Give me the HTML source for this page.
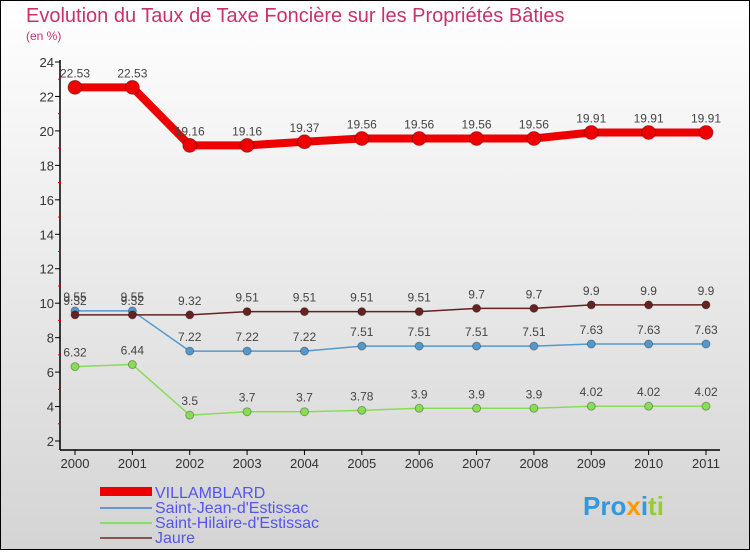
<!DOCTYPE html>
<html><head><meta charset="utf-8"><style>
html,body{margin:0;padding:0}
body{width:750px;height:550px;overflow:hidden;font-family:"Liberation Sans",sans-serif}
</style></head><body>
<svg width="750" height="550" xmlns="http://www.w3.org/2000/svg">
<defs><linearGradient id="bg" x1="0" y1="0" x2="0" y2="1"><stop offset="0" stop-color="#ffffff"/><stop offset="1" stop-color="#d4d4d4"/></linearGradient></defs>
<rect x="0.5" y="0.5" width="749" height="549" fill="url(#bg)" stroke="#000"/>
<text x="26" y="22" font-size="20" fill="#c8326a">Evolution du Taux de Taxe Foncière sur les Propriétés Bâties</text>
<text x="26" y="40" font-size="12" fill="#c8326a">(en %)</text>
<g id="axes"></g>
<g id="series"></g>
<g>
<rect x="100" y="487" width="52" height="9" fill="#ee0000"/>
<text x="155" y="498" font-size="16" fill="#5555ee">VILLAMBLARD</text>
<line x1="100" y1="508" x2="152" y2="508" stroke="#6699cc" stroke-width="2"/>
<text x="155" y="513" font-size="16" fill="#5555ee">Saint-Jean-d'Estissac</text>
<line x1="100" y1="523" x2="152" y2="523" stroke="#88dd66" stroke-width="2"/>
<text x="155" y="528" font-size="16" fill="#5555ee">Saint-Hilaire-d'Estissac</text>
<line x1="100" y1="538" x2="152" y2="538" stroke="#885555" stroke-width="2"/>
<text x="155" y="543" font-size="16" fill="#5555ee">Jaure</text>
</g>
<text x="583" y="515" font-size="26" font-weight="bold" fill="#3399dd">Pro<tspan fill="#ff9900">x</tspan><tspan fill="#3399dd">i</tspan><tspan fill="#99cc33">ti</tspan></text>
</svg>
<script>
const years=[2000,2001,2002,2003,2004,2005,2006,2007,2008,2009,2010,2011];
const villamblard=[22.53,22.53,19.16,19.16,19.37,19.56,19.56,19.56,19.56,19.91,19.91,19.91];
const saintJean=[9.55,9.55,7.22,7.22,7.22,7.51,7.51,7.51,7.51,7.63,7.63,7.63];
const saintHilaire=[6.32,6.44,3.5,3.7,3.7,3.78,3.9,3.9,3.9,4.02,4.02,4.02];
const jaure=[9.32,9.32,9.32,9.51,9.51,9.51,9.51,9.7,9.7,9.9,9.9,9.9];
const yTicks=[2,4,6,8,10,12,14,16,18,20,22,24];
const NS="http://www.w3.org/2000/svg";
const xs=i=>75+i*(706-75)/(years.length-1);
const ys=v=>441-(v-2)*(441-62)/22;
function mk(t,a,p){const e=document.createElementNS(NS,t);for(const k in a)e.setAttribute(k,a[k]);p.appendChild(e);return e;}
const ax=document.getElementById('axes');
let l=mk('line',{x1:60,y1:60,x2:60,y2:450,stroke:'#000','stroke-width':1.5},ax);


l=mk('line',{x1:60,y1:450,x2:720,y2:450,stroke:'#000','stroke-width':1.5},ax);


yTicks.forEach(v=>{
 mk('line',{x1:55,y1:ys(v),x2:60,y2:ys(v),stroke:'#000'},ax);
 if(v<24) mk('line',{x1:58,y1:ys(v+1),x2:61,y2:ys(v+1),stroke:'#e00'},ax);
 const t=mk('text',{x:54,y:ys(v)+5,'font-size':13,'text-anchor':'end',fill:'#333'},ax);
 t.textContent=v;
 
 
});
years.forEach((y,i)=>{
 mk('line',{x1:xs(i),y1:450,x2:xs(i),y2:455,stroke:'#000'},ax);
 const t=mk('text',{x:xs(i),y:468,'font-size':13,'text-anchor':'middle',fill:'#333'},ax);
 t.textContent=y;
 
 
});
const sg=document.getElementById('series');
function series(vals,color,w,r,name){
 const g=mk('g',{},sg);
 
 
 mk('polyline',{points:vals.map((v,i)=>xs(i)+','+ys(v)).join(' '),fill:'none',stroke:color,'stroke-width':w,'stroke-linejoin':'round'},g);
 vals.forEach((v,i)=>{
  const c=mk('circle',{cx:xs(i),cy:ys(v),r:r,fill:color,stroke:'rgba(0,0,0,0.3)'},g);
  
  
  const t=mk('text',{x:xs(i),y:ys(v)-10,'font-size':12,'text-anchor':'middle',fill:'#444'},g);
  t.textContent=v;
  
  
 });
}
series(saintHilaire,'#88dd55',1.5,4,'series-saint-hilaire');
series(saintJean,'#5599cc',1.5,4,'series-saint-jean');
series(jaure,'#662222',1.5,4,'series-jaure');
series(villamblard,'#ee0000',8,7,'series-villamblard');
</script>
</body></html>
